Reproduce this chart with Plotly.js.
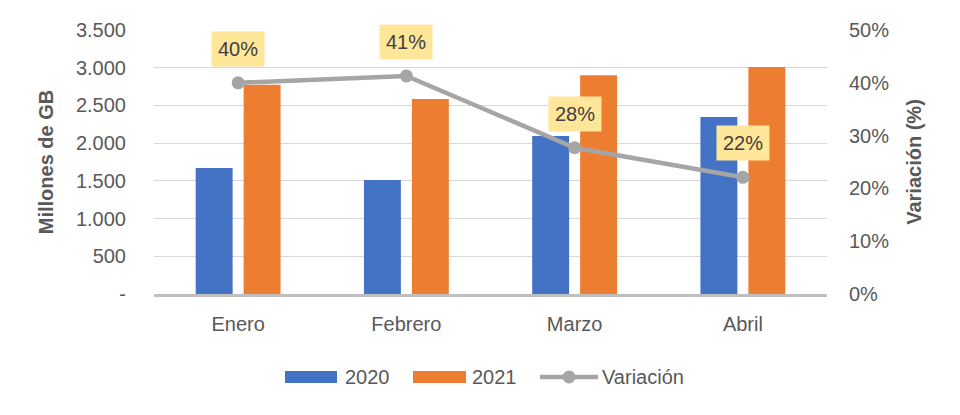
<!DOCTYPE html>
<html>
<head>
<meta charset="utf-8">
<script src="https://cdn.plot.ly/plotly-3.0.1.min.js"></script>
<style>html,body{margin:0;padding:0;background:#fff;}#chart{width:960px;height:415px;}</style>
</head>
<body>
<div id="chart"></div>
<script>
const categories = ["Enero", "Febrero", "Marzo", "Abril"];
const values2020 = [1670, 1510, 2095, 2345];
const values2021 = [2775, 2585, 2900, 3010];
const variacion = [0.40, 0.413, 0.277, 0.221];
const variacionLabels = ["40%", "41%", "28%", "22%"];
const leftTickVals = [0, 500, 1000, 1500, 2000, 2500, 3000, 3500];
const leftTickText = ["-", "500", "1.000", "1.500", "2.000", "2.500", "3.000", "3.500"];
const rightTickVals = [0, 0.1, 0.2, 0.3, 0.4, 0.5];
const rightTickText = ["0%", "10%", "20%", "30%", "40%", "50%"];
const seriesNames = ["2020", "2021", "Variación"];
const seriesColors = ["#4472c4", "#ed7d31", "#a5a5a5"];

const font = "Arial, 'Liberation Sans', sans-serif";
const tickColor = "#595959";

const traces = [
  {type: "bar", name: seriesNames[0], x: categories, y: values2020, marker: {color: seriesColors[0]}, hoverinfo: "y"},
  {type: "bar", name: seriesNames[1], x: categories, y: values2021, marker: {color: seriesColors[1]}, hoverinfo: "y"},
  {type: "scatter", mode: "lines+markers", name: seriesNames[2], x: categories, y: variacion, yaxis: "y2",
   line: {color: seriesColors[2], width: 4.5}, marker: {color: seriesColors[2], size: 13}}
];

const annotations = categories.map((c, i) => ({
  x: c, y: variacion[i], xref: "x", yref: "y2", text: variacionLabels[i],
  showarrow: false, yshift: 34, bgcolor: "#ffe699", borderpad: 6,
  font: {family: font, size: 20, color: "#404040"}
}));

// Custom legend (Excel-style wide swatches), placed in paper coordinates
const plotL = 154, plotW = 673, plotB = 294, plotH = 264;
const px = v => (v - plotL) / plotW;
const py = v => (plotB - v) / plotH;
const legY = 377;
const shapes = [
  {type: "rect", xref: "paper", yref: "paper", x0: px(285), x1: px(337), y0: py(383), y1: py(371),
   fillcolor: seriesColors[0], line: {width: 0}},
  {type: "rect", xref: "paper", yref: "paper", x0: px(413), x1: px(466), y0: py(383), y1: py(371),
   fillcolor: seriesColors[1], line: {width: 0}},
  {type: "line", xref: "paper", yref: "paper", x0: px(540), x1: px(598), y0: py(legY), y1: py(legY),
   line: {color: seriesColors[2], width: 4.5}},
  {type: "circle", xref: "paper", yref: "paper", x0: px(562.5), x1: px(575.5), y0: py(legY + 6.5), y1: py(legY - 6.5),
   fillcolor: seriesColors[2], line: {width: 0}}
];
const legendText = [[343, seriesNames[0]], [470, seriesNames[1]], [600, seriesNames[2]]];
legendText.forEach(([x, t]) => annotations.push({
  xref: "paper", yref: "paper", x: px(x), y: py(legY), xanchor: "left", yanchor: "middle",
  text: t, showarrow: false, font: {family: font, size: 20, color: tickColor}
}));

const layout = {
  width: 960, height: 415,
  margin: {l: 154, r: 133, t: 30, b: 121},
  paper_bgcolor: "#ffffff", plot_bgcolor: "#ffffff",
  font: {family: font, size: 20, color: tickColor},
  barmode: "group", bargap: 0.43, bargroupgap: 0.23,
  showlegend: false,
  xaxis: {tickfont: {family: font, size: 20, color: tickColor}, showline: true, linecolor: "#bfbfbf", linewidth: 3,
          ticks: "", ticklabelstandoff: 10, showgrid: false, zeroline: false},
  yaxis: {range: [0, 3500], tickvals: leftTickVals, ticktext: leftTickText, showgrid: true, gridcolor: "#d9d9d9", gridwidth: 1,
          zeroline: false, showline: false, ticks: "", ticklabelstandoff: 27,
          tickfont: {family: font, size: 20, color: tickColor},
          title: {text: "<b>Millones de GB</b>", font: {family: font, size: 20, color: tickColor}, standoff: 16}},
  yaxis2: {range: [0, 0.5], overlaying: "y", side: "right", tickvals: rightTickVals, ticktext: rightTickText,
           showgrid: false, zeroline: false, showline: false, ticks: "", ticklabelstandoff: 21,
           tickfont: {family: font, size: 20, color: tickColor},
           title: {text: "<b>Variación (%)</b>", font: {family: font, size: 20, color: tickColor}, standoff: 18}},
  shapes: shapes,
  annotations: annotations
};

Plotly.newPlot("chart", traces, layout, {displayModeBar: false, staticPlot: true});
</script>
</body>
</html>
